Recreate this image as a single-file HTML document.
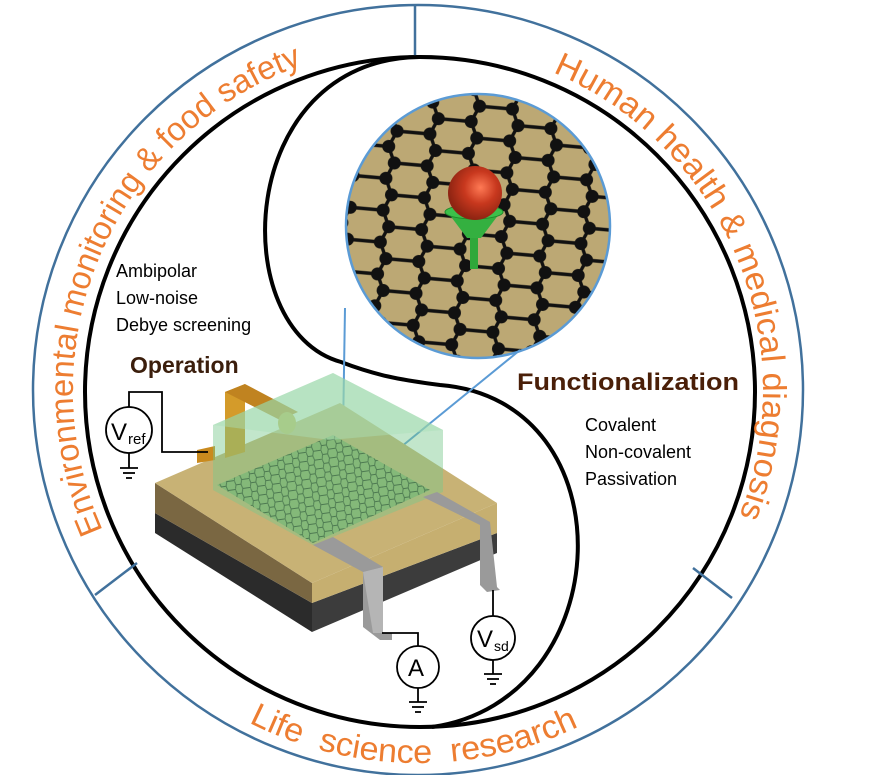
<!DOCTYPE html>
<html><head><meta charset="utf-8"><style>
html,body{margin:0;padding:0;background:#fff;}
svg{display:block;}
</style></head><body>
<svg width="882" height="775" viewBox="0 0 882 775" xmlns="http://www.w3.org/2000/svg">
<defs>
<pattern id="lat" width="80" height="32" patternUnits="userSpaceOnUse" patternTransform="rotate(5)">
<rect width="80" height="32" fill="#bca874"/>
<g stroke="#111" stroke-width="3.4" fill="none">
<path d="M7,0H40M7,32H40M40,0L47,16L40,32M47,16H80M0,16L7,0M0,16L7,32"/>
</g>
<g fill="#111">
<circle cx="7" cy="0" r="6.5"/><circle cx="40" cy="0" r="6.5"/><circle cx="7" cy="32" r="6.5"/><circle cx="40" cy="32" r="6.5"/><circle cx="47" cy="16" r="6.5"/><circle cx="0" cy="16" r="6.5"/><circle cx="80" cy="16" r="6.5"/>
</g>
</pattern>
<pattern id="hexs" width="15" height="9" patternUnits="userSpaceOnUse" patternTransform="rotate(-8)">
<rect width="15" height="9" fill="#8fae6a"/>
<path d="M1.25,0H6.25M1.25,9H6.25M6.25,0L7.5,4.5L6.25,9M7.5,4.5H15M0,4.5L1.25,0M0,4.5L1.25,9" stroke="#2a3a22" stroke-width="0.9" fill="none"/>
</pattern>
<radialGradient id="ball" cx="0.6" cy="0.4" r="0.6"><stop offset="0" stop-color="#ff7a55"/><stop offset="0.5" stop-color="#c8381e"/><stop offset="1" stop-color="#8e2412"/></radialGradient>
<clipPath id="mag"><circle cx="478" cy="226" r="132"/></clipPath>
<path id="pl" d="M102.8,530.3 A345,345 0 0 1 311.4,61.9"/>
<path id="pr" d="M552.8,72.4 A345,345 0 0 1 735.6,524.8"/>
<path id="pb" d="M248.7,722.4 A373,373 0 0 0 587.3,722.4"/>
</defs>

<circle cx="418" cy="390" r="385" fill="none" stroke="#41719c" stroke-width="2.5"/>
<circle cx="420" cy="392" r="335" fill="none" stroke="#000" stroke-width="4"/>
<line x1="415" y1="5" x2="415" y2="57" stroke="#41719c" stroke-width="2.5"/>
<line x1="95" y1="595" x2="137" y2="563" stroke="#41719c" stroke-width="2.5"/>
<line x1="693" y1="568" x2="732" y2="598" stroke="#41719c" stroke-width="2.5"/>

<path d="M419,57 C235,60 225,330 341,362 C375,375 400,380 440,385 C630,400 620,700 432,727" fill="none" stroke="#000" stroke-width="4"/>

<g font-family="Liberation Sans Narrow, Liberation Sans, sans-serif" font-size="33" fill="#ed7d31">
<text><textPath href="#pl" textLength="568" lengthAdjust="spacingAndGlyphs">Environmental monitoring &amp; food safety</textPath></text>
<text><textPath href="#pr" textLength="532" lengthAdjust="spacingAndGlyphs">Human health &amp; medical diagnosis</textPath></text>
<text><textPath href="#pb" textLength="342" lengthAdjust="spacingAndGlyphs">Life&#160;&#160;science&#160;&#160;research</textPath></text>
</g>

<g clip-path="url(#mag)"><rect x="340" y="90" width="280" height="280" fill="url(#lat)"/></g>
<circle cx="478" cy="226" r="132" fill="none" stroke="#5b9bd5" stroke-width="2.5"/>
<rect x="470" y="214" width="8" height="55" fill="#2fa83a"/>
<path d="M446,210 L467,238 L481,238 L502,210 Z" fill="#34b040"/>
<ellipse cx="474" cy="212" rx="29" ry="7" fill="#3cc04a" stroke="#1f8a2a" stroke-width="1"/>
<circle cx="475" cy="193" r="27" fill="url(#ball)"/>

<line x1="345" y1="308" x2="342" y2="495" stroke="#5b9bd5" stroke-width="2"/>
<line x1="520" y1="350" x2="342" y2="495" stroke="#5b9bd5" stroke-width="2"/>

<polygon points="155,513 312,603 312,632 155,533" fill="#2b2b2b"/>
<polygon points="312,603 497,533 497,553 312,632" fill="#3c3c3c"/>
<polygon points="155,483 312,583 312,603 155,513" fill="#7a6742"/>
<polygon points="312,583 497,503 497,533 312,603" fill="#c6af70"/>
<polygon points="155,483 340,403 497,503 312,583" fill="#c8b275"/>
<polygon points="197,450 215,446 215,460 197,463" fill="#c98a1e"/>
<polygon points="225,392 245,384 245,452 225,458" fill="#d49b2a"/>
<polygon points="225,392 245,384 298,412 280,420" fill="#c08320"/>
<ellipse cx="287" cy="423" rx="9" ry="11" fill="#c9b24a"/>
<polygon points="217,485 333,435 430,490 313,543" fill="url(#hexs)"/>
<polygon points="213,425 333,373 443,430 443,492 313,545 213,490" fill="rgba(120,200,140,0.45)"/>
<polygon points="213,425 333,373 443,430 330,440" fill="rgba(170,225,185,0.45)"/>
<polygon points="313,545 333,537 383,567 383,633 392,633 392,640 380,640 363,627 363,572" fill="#9a9a9a"/>
<polygon points="363,572 383,567 383,633 373,633" fill="#b5b5b5"/>
<polygon points="423,497 437,492 490,522 497,587 500,590 487,592 480,585 480,525" fill="#9a9a9a"/>

<g stroke="#000" stroke-width="1.8" fill="none">
<polyline points="129,407 129,392 162,392 162,452 208,452"/>
<line x1="129" y1="453" x2="129" y2="468"/>
<line x1="120" y1="468" x2="138" y2="468"/><line x1="123" y1="473" x2="135" y2="473"/><line x1="126" y1="478" x2="132" y2="478"/>
<circle cx="129" cy="430" r="23" fill="#fff"/>
<polyline points="382,633 418,633 418,646"/>
<circle cx="418" cy="667" r="21" fill="#fff"/>
<line x1="418" y1="688" x2="418" y2="702"/>
<line x1="409" y1="702" x2="427" y2="702"/><line x1="412" y1="707" x2="424" y2="707"/><line x1="415" y1="712" x2="421" y2="712"/>
<line x1="493" y1="590" x2="493" y2="616"/>
<circle cx="493" cy="638" r="22" fill="#fff"/>
<line x1="493" y1="660" x2="493" y2="674"/>
<line x1="484" y1="674" x2="502" y2="674"/><line x1="487" y1="679" x2="499" y2="679"/><line x1="490" y1="684" x2="496" y2="684"/>
</g>
<g font-family="Liberation Sans, sans-serif" fill="#000">
<text x="111" y="440" font-size="24">V</text><text x="128" y="444" font-size="15">ref</text>
<text x="408" y="676" font-size="24">A</text>
<text x="477" y="647" font-size="24">V</text><text x="494" y="651" font-size="14">sd</text>
</g>

<g font-family="Liberation Sans, sans-serif" font-size="18" fill="#000">
<text x="116" y="277">Ambipolar</text>
<text x="116" y="304">Low-noise</text>
<text x="116" y="331">Debye screening</text>
<text x="585" y="431">Covalent</text>
<text x="585" y="458">Non-covalent</text>
<text x="585" y="485">Passivation</text>
</g>
<text x="130" y="373" font-family="Liberation Sans, sans-serif" font-size="23" font-weight="bold" fill="#3b1e0c">Operation</text>
<text x="517" y="390" font-family="Liberation Sans, sans-serif" font-size="24" font-weight="bold" fill="#4a1f08" textLength="222" lengthAdjust="spacingAndGlyphs">Functionalization</text>
</svg>
</body></html>
